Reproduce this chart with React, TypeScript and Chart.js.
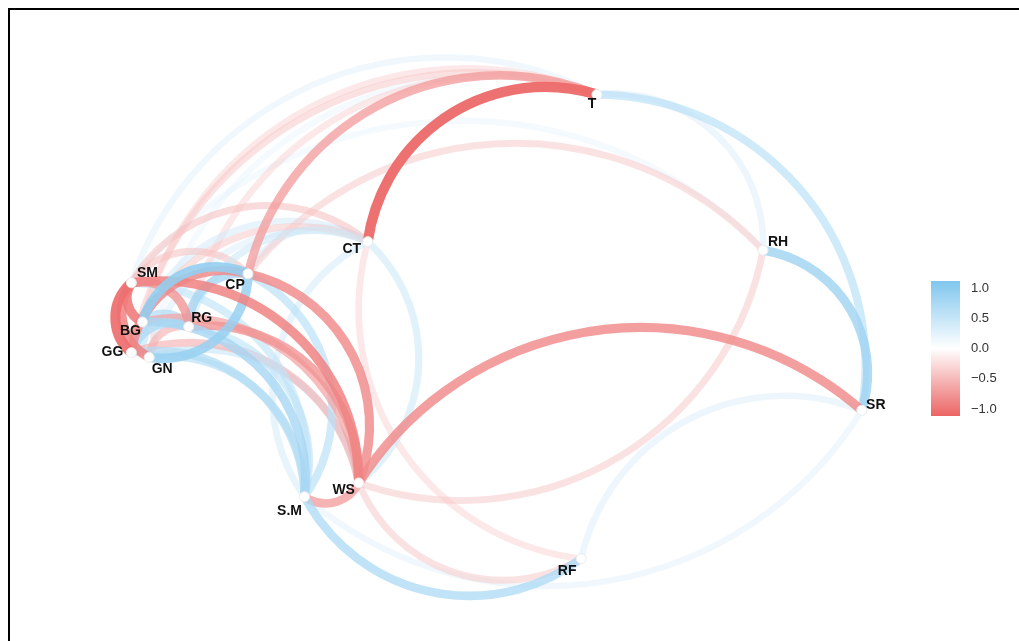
import React, { useEffect, useRef } from "react";
import { Chart, registerables } from "chart.js";
Chart.register(...registerables);

// Node names and their 2-D (MDS-like) coordinates
const NODE_NAMES = ["SM", "CP", "RG", "BG", "GG", "GN", "CT", "T", "RH", "SR", "S.M", "WS", "RF"];
const NODE_X = [-0.933, -0.638, -0.788, -0.905, -0.933, -0.888, -0.335, 0.245, 0.665, 0.915, -0.495, -0.358, 0.205];
const NODE_Y = [0.17, 0.193, 0.058, 0.07, -0.008, -0.02, 0.275, 0.65, 0.253, -0.155, -0.375, -0.34, -0.533];

// Correlation edges
const EDGE_FROM = [
  "GG", "BG", "GN", "BG", "CP", "RG", "GG", "SM", "SM", "BG", "GG", "GN", "BG", "GG", "BG",
  "SM", "BG", "RG", "CP", "GG", "GN",
  "SM", "BG", "GG", "RG", "GN", "CP",
  "CP", "SM",
  "SM", "CP", "RG", "BG", "GG", "BG", "GG", "GN", "SM", "RG", "CP", "GN",
  "CT", "S.M", "WS",
  "CT", "T", "T", "RH", "WS", "RF", "SR", "RF", "RF", "RH", "RF",
];
const EDGE_TO = [
  "SM", "SM", "SM", "CP", "GN", "CP", "CP", "RG", "CP", "RG", "RG", "RG", "GG", "GN", "GN",
  "CT", "CT", "CT", "CT", "CT", "CT",
  "T", "T", "T", "T", "T", "T",
  "RH", "RH",
  "WS", "WS", "WS", "WS", "WS", "S.M", "S.M", "S.M", "S.M", "S.M", "S.M", "WS",
  "WS", "CT", "S.M",
  "T", "RH", "SR", "SR", "SR", "SR", "S.M", "S.M", "WS", "WS", "CT",
];
const EDGE_R = [
  -0.92, -0.85, -0.8, 0.85, 0.8, 0.7, -0.75, -0.7, -0.4, 0.6, 0.65, -0.5, 0.5, 0.4, -0.3,
  -0.4, 0.35, 0.4, 0.35, -0.35, 0.3,
  0.25, -0.3, -0.35, -0.3, 0.2, -0.65,
  -0.35, 0.2,
  -0.8, -0.75, -0.7, -0.6, -0.5, 0.7, 0.6, 0.55, 0.5, 0.5, 0.55, 0.45,
  0.4, 0.35, -0.65,
  -0.95, 0.3, 0.55, 0.75, -0.75, 0.3, 0.25, 0.65, -0.35, -0.35, -0.3,
];

// Colour-bar legend
const LEGEND_TICKS = [1.0, 0.5, 0.0, -0.5, -1.0];
const LEGEND_LABELS = ["1.0", "0.5", "0.0", "\u22120.5", "\u22121.0"];

const LABEL_OFFSET: Record<string, [number, number]> = {
  SM: [16, -10], CP: [-13, 11], RG: [13, -9], BG: [-12, 9], GG: [-19, -1], GN: [13, 12],
  CT: [-16, 8], T: [-5, 10], RH: [15, -8], SR: [14, -5], "S.M": [-15, 14], WS: [-15, 7], RF: [-14, 12],
};

const NEG = [236, 100, 100];
const POS = [128, 198, 238];
const CURVATURE = 0.23;

function corrColor(r: number) {
  const t = Math.min(1, Math.abs(r));
  const c = r < 0 ? NEG : POS;
  const v = c.map((ch) => Math.round(255 + (ch - 255) * t));
  return `rgb(${v[0]},${v[1]},${v[2]})`;
}

function drawArc(ctx: CanvasRenderingContext2D, x0: number, y0: number, x1: number, y1: number, k: number) {
  const dx = x1 - x0, dy = y1 - y0;
  const L = Math.hypot(dx, dy);
  if (L < 1) return;
  const nx = dy / L, ny = -dx / L;
  const s = k * L;
  const R = (L * L / 4 + s * s) / (2 * s);
  const mx = (x0 + x1) / 2, my = (y0 + y1) / 2;
  const cx = mx - nx * (R - s), cy = my - ny * (R - s);
  const bx = mx + nx * s, by = my + ny * s;
  const a0 = Math.atan2(y0 - cy, x0 - cx);
  const a1 = Math.atan2(y1 - cy, x1 - cx);
  const ab = Math.atan2(by - cy, bx - cx);
  const TAU = Math.PI * 2;
  const norm = (a: number) => ((a % TAU) + TAU) % TAU;
  const d1 = norm(a1 - a0), db = norm(ab - a0);
  ctx.beginPath();
  ctx.arc(cx, cy, R, a0, a1, !(db < d1));
  ctx.stroke();
}

const edgePlugin = {
  id: "corrEdges",
  beforeDatasetsDraw(chart: any) {
    const ctx: CanvasRenderingContext2D = chart.ctx;
    const xs = chart.scales.x, ys = chart.scales.y;
    const idx = EDGE_R.map((_, i) => i).sort((a, b) => Math.abs(EDGE_R[a]) - Math.abs(EDGE_R[b]));
    ctx.save();
    ctx.lineCap = "butt";
    for (const i of idx) {
      const a = NODE_NAMES.indexOf(EDGE_FROM[i]);
      const b = NODE_NAMES.indexOf(EDGE_TO[i]);
      const r = EDGE_R[i];
      const t = Math.abs(r);
      ctx.strokeStyle = corrColor(r);
      ctx.globalAlpha = 0.3 + 0.7 * t;
      ctx.lineWidth = 5 + 5.5 * t;
      drawArc(
        ctx,
        xs.getPixelForValue(NODE_X[a]), ys.getPixelForValue(NODE_Y[a]),
        xs.getPixelForValue(NODE_X[b]), ys.getPixelForValue(NODE_Y[b]),
        CURVATURE
      );
    }
    ctx.restore();
  },
  afterDatasetsDraw(chart: any) {
    const ctx: CanvasRenderingContext2D = chart.ctx;
    const xs = chart.scales.x, ys = chart.scales.y;
    ctx.save();
    ctx.font = "bold 14px 'Liberation Sans', Arial, sans-serif";
    ctx.fillStyle = "#111";
    ctx.textAlign = "center";
    ctx.textBaseline = "middle";
    NODE_NAMES.forEach((n, i) => {
      const off = LABEL_OFFSET[n] || [0, 0];
      ctx.fillText(n, xs.getPixelForValue(NODE_X[i]) + off[0], ys.getPixelForValue(NODE_Y[i]) + off[1]);
    });
    // colour bar legend
    const bx = 921, by = 271, bw = 29, bh = 135, inset = 7;
    const g = ctx.createLinearGradient(0, by, 0, by + bh);
    g.addColorStop(0, `rgb(${POS.join(",")})`);
    g.addColorStop(0.5, "rgb(255,255,255)");
    g.addColorStop(1, `rgb(${NEG.join(",")})`);
    ctx.fillStyle = g;
    ctx.fillRect(bx, by, bw, bh);
    ctx.font = "13px 'Liberation Sans', Arial, sans-serif";
    ctx.fillStyle = "#333";
    ctx.textAlign = "left";
    LEGEND_TICKS.forEach((v, i) => {
      const y = by + inset + ((1 - v) / 2) * (bh - 2 * inset);
      ctx.fillText(LEGEND_LABELS[i], bx + bw + 11, y);
    });
    ctx.restore();
  },
};

export default function App() {
  const ref = useRef<HTMLCanvasElement | null>(null);
  useEffect(() => {
    if (!ref.current) return;
    const chart = new Chart(ref.current, {
      type: "scatter",
      data: {
        datasets: [
          {
            data: NODE_X.map((x, i) => ({ x, y: NODE_Y[i] })),
            pointRadius: 5,
            pointBackgroundColor: "#ffffff",
            pointBorderColor: "rgba(235,235,235,1)",
            pointBorderWidth: 1,
            pointHoverRadius: 5,
          },
        ],
      },
      options: {
        responsive: false,
        animation: false,
        layout: { padding: 0 },
        plugins: { legend: { display: false }, tooltip: { enabled: false } },
        scales: {
          x: { type: "linear", min: -1.225, max: 1.2975, display: false },
          y: { type: "linear", min: -0.7275, max: 0.85, display: false },
        },
      },
      plugins: [edgePlugin],
    });
    return () => chart.destroy();
  }, []);
  return (
    <div
      style={{
        position: "fixed",
        left: 8,
        top: 8,
        width: 1011,
        height: 633,
        borderTop: "2px solid #000",
        borderLeft: "2px solid #000",
        boxSizing: "border-box",
        background: "#fff",
      }}
    >
      <canvas ref={ref} width={1009} height={631} style={{ display: "block", width: 1009, height: 631 }} />
    </div>
  );
}
